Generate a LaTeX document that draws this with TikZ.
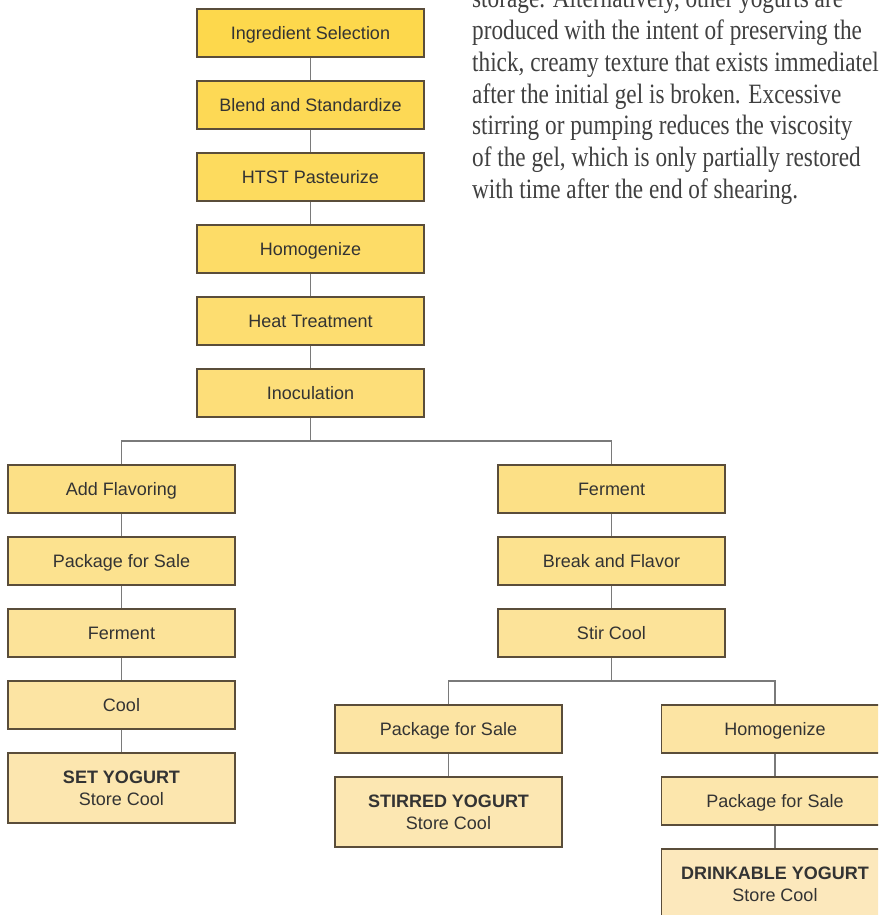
\documentclass[tikz,border=0pt]{standalone}
\usepackage{fontspec}
\setmainfont{Liberation Sans}
\newfontfamily\bodyserif{Liberation Serif}
\usepackage{graphicx}
\definecolor{topY}{HTML}{FDD84C}
\definecolor{botY}{HTML}{FCE8BC}
\definecolor{boxline}{HTML}{5A4D3A}
\definecolor{connline}{HTML}{7A7A7A}
\definecolor{txt}{HTML}{333333}
\definecolor{bodytxt}{HTML}{404040}
\tikzset{
  box/.style={draw=boxline, line width=1.1pt, fill=topY!#1!botY, minimum width=227pt, minimum height=48pt,
    inner sep=0pt, text=txt, font=\fontsize{18}{22}\selectfont, align=center, text height=14pt, text depth=1pt},
  endbox/.style={box=#1, minimum height=70pt, text height=, text depth=},
  conn/.style={draw=connline, line width=1.5pt},
  bodyline/.style={anchor=base west, inner sep=0pt, text=bodytxt, font=\bodyserif\fontsize{28}{31}\selectfont}
}
\newcommand{\sq}[1]{\scalebox{0.83}[1]{#1}}
\begin{document}
\begin{tikzpicture}[x=1pt,y=-1pt]
\useasboundingbox (0,0) rectangle (878,915);
\clip (0,0) rectangle (878,915);
\fill[white] (0,0) rectangle (878,915);

% main column
\node[box=100] (ing) at (310.5,33) {Ingredient Selection};
\node[box=92] (blend) at (310.5,105) {Blend and Standardize};
\node[box=84] (htst) at (310.5,177) {HTST Pasteurize};
\node[box=76] (homo) at (310.5,249) {Homogenize};
\node[box=68] (heat) at (310.5,321) {Heat Treatment};
\node[box=60] (inoc) at (310.5,393) {Inoculation};

% left column
\node[box=48] (addfl) at (121.5,489) {Add Flavoring};
\node[box=40] (pkgL) at (121.5,561) {Package for Sale};
\node[box=31] (fermL) at (121.5,633) {Ferment};
\node[box=22] (cool) at (121.5,705) {Cool};
\node[endbox=12] (setY) at (121.5,788) {\textbf{SET YOGURT}\\Store Cool};

% right column
\node[box=48] (fermR) at (611.5,489) {Ferment};
\node[box=40] (brk) at (611.5,561) {Break and Flavor};
\node[box=31] (stir) at (611.5,633) {Stir Cool};

\node[box=22] (pkgS) at (448.5,729) {Package for Sale};
\node[endbox=9] (stirY) at (448.5,812) {\textbf{STIRRED YOGURT}\\Store Cool};

\node[box=22] (homoD) at (775,729) {Homogenize};
\node[box=14] (pkgD) at (775,801) {Package for Sale};
\node[endbox=0] (drinkY) at (775,884) {\textbf{DRINKABLE YOGURT}\\Store Cool};

% connectors
\draw[conn] (ing) -- (blend);
\draw[conn] (blend) -- (htst);
\draw[conn] (htst) -- (homo);
\draw[conn] (homo) -- (heat);
\draw[conn] (heat) -- (inoc);
\coordinate (b1) at (310.5,441);
\draw[conn] (inoc) -- (b1);
\draw[conn] (b1) -| (addfl.north);
\draw[conn] (b1) -| (fermR.north);
\draw[conn] (addfl) -- (pkgL);
\draw[conn] (pkgL) -- (fermL);
\draw[conn] (fermL) -- (cool);
\draw[conn] (cool) -- (setY);
\draw[conn] (fermR) -- (brk);
\draw[conn] (brk) -- (stir);
\coordinate (b2) at (611.5,681);
\draw[conn] (stir) -- (b2);
\draw[conn] (b2) -| (pkgS.north);
\draw[conn] (b2) -| (homoD.north);
\draw[conn] (pkgS) -- (stirY);
\draw[conn] (homoD) -- (pkgD);
\draw[conn] (pkgD) -- (drinkY);

% body text
\node[bodyline] (t1) at (472,8) {\sq{storage. Alternatively, other yogurts are}};
\node[bodyline] (t2) at (472,39.7) {\sq{produced with the intent of preserving the}};
\node[bodyline] (t3) at (472,71.4) {\sq{thick, creamy texture that exists immediately}};
\node[bodyline] (t4) at (472,103.1) {\sq{after the initial gel is broken. Excessive}};
\node[bodyline] (t5) at (472,134.8) {\sq{stirring or pumping reduces the viscosity}};
\node[bodyline] (t6) at (472,166.5) {\sq{of the gel, which is only partially restored}};
\node[bodyline] (t7) at (472,198.2) {\sq{with time after the end of shearing.}};
\end{tikzpicture}
\end{document}
